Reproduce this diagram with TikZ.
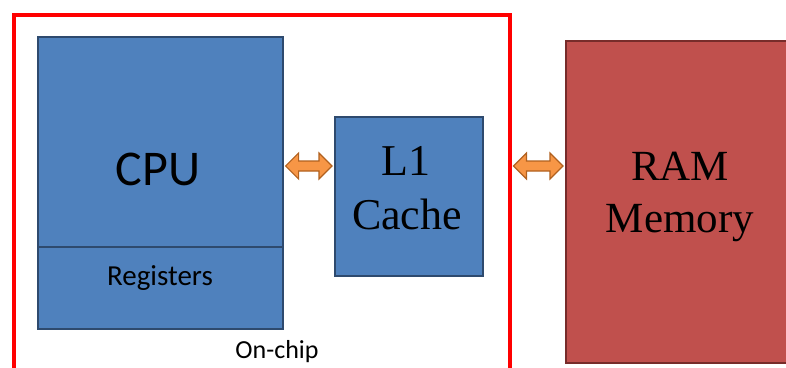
\documentclass[tikz,border=0pt]{standalone}
\usepackage{fontspec}
\setmainfont{Liberation Serif}
\newfontfamily\calfont{Carlito}
\usetikzlibrary{calc}

\definecolor{boxblue}{HTML}{4F81BD}
\definecolor{boxblueline}{HTML}{2E4A6E}
\definecolor{ramred}{HTML}{C0504D}
\definecolor{ramline}{HTML}{772C2A}
\definecolor{arrowfill}{HTML}{F79646}
\definecolor{arrowline}{HTML}{B1611F}

\tikzset{
  unitbox/.style={draw=boxblueline, fill=boxblue, line width=1.6pt,
    rectangle, inner sep=0pt, anchor=north west},
  rambox/.style={draw=ramline, fill=ramred, line width=1.6pt,
    rectangle, inner sep=0pt, anchor=north west},
  chipframe/.style={draw=red, line width=4pt},
  blockarrow/.style={draw=arrowline, fill=arrowfill, line width=1.2pt, line join=miter},
  sanslabel/.style={font=\calfont, anchor=base, inner sep=0pt},
  seriflabel/.style={anchor=base, inner sep=0pt},
}

% double-headed block arrow between two points (only their x positions are used)
\newcommand\linkarrow[2]{%
  \draw[blockarrow] let \p1=(#1), \p2=(#2) in
    ({\x1+2pt},-166pt) -- ({\x1+15pt},-153pt) -- ({\x1+15pt},-161pt)
    -- ({\x2-15pt},-161pt) -- ({\x2-15pt},-153pt) -- ({\x2-2pt},-166pt)
    -- ({\x2-15pt},-179pt) -- ({\x2-15pt},-171pt) -- ({\x1+15pt},-171pt)
    -- ({\x1+15pt},-179pt) -- cycle;}

\begin{document}
\begin{tikzpicture}[x=1pt,y=-1pt]
  \useasboundingbox (0,0) rectangle (786,367);

  % on-chip boundary, open below the page edge
  \draw[chipframe] (14,400) -- (14,14.5) -- (509.5,14.5) -- (509.5,400);
  \coordinate (chipedge) at (511.5,166);

  % CPU with its register section
  \node[unitbox, minimum width=245pt, minimum height=292pt] (cpu) at (37,36) {};
  \draw[draw=boxblueline, line width=1.6pt] (cpu.west |- 0,247) -- (cpu.east |- 0,247);
  \node[sanslabel, font=\calfont\fontsize{50}{60}\selectfont] (cpulbl) at (158,185) {CPU};
  \node[sanslabel, font=\calfont\fontsize{29}{35}\selectfont] (reglbl) at (160,285) {Registers};

  % L1 cache
  \node[unitbox, minimum width=148pt, minimum height=159pt] (l1) at (334,116) {};
  \node[seriflabel, font=\fontsize{44}{54}\selectfont] (l1a) at (406,175) {L1};
  \node[seriflabel, font=\fontsize{44}{54}\selectfont] (l1b) at (407,229) {Cache};

  % main memory, running past the right edge
  \node[rambox, minimum width=300pt, minimum height=322pt] (ram) at (565,40) {};
  \node[seriflabel, font=\fontsize{43}{53}\selectfont] (rama) at (680,180) {RAM};
  \node[seriflabel, font=\fontsize{43}{53}\selectfont] (ramb) at (680,232) {Memory};

  % chip label
  \node[sanslabel, font=\calfont\fontsize{26}{31}\selectfont] (chiplbl) at (277,358) {On-chip};

  % data paths
  \linkarrow{cpu.east}{l1.west}
  \linkarrow{chipedge}{ram.west}
\end{tikzpicture}
\end{document}
